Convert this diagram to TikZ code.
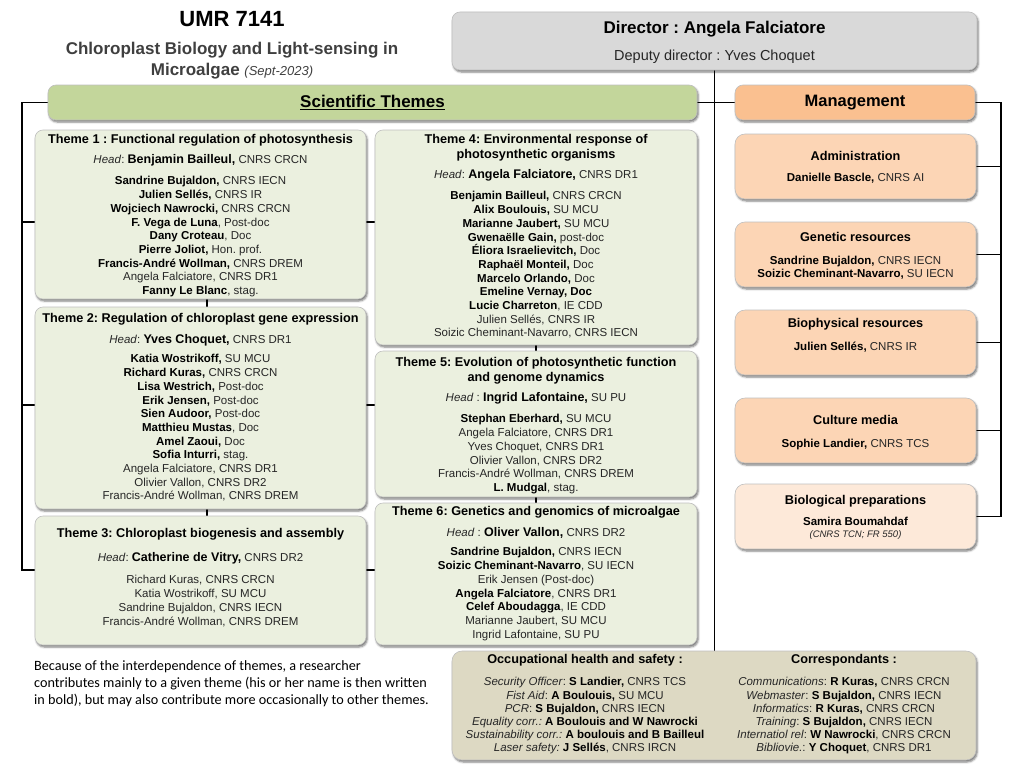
\documentclass[tikz,border=0pt]{standalone}
\usepackage{fontspec}
\setmainfont{Liberation Sans}
\newfontfamily\notefont{Carlito}
\usetikzlibrary{shadows.blur}
\frenchspacing
\definecolor{themefill}{HTML}{EBF0DF}
\definecolor{scifill}{HTML}{C3D69B}
\definecolor{mgmtfill}{HTML}{FAC090}
\definecolor{subfill}{HTML}{FCD5B5}
\definecolor{biofill}{HTML}{FDE9D9}
\definecolor{dirfill}{HTML}{D9D9D9}
\definecolor{safefill}{HTML}{DDD9C3}
\definecolor{boxline}{HTML}{BFBFBF}
\definecolor{subtitlecol}{HTML}{3F3F3F}
\definecolor{regtext}{HTML}{262626}
\newcommand{\bn}[1]{{\bfseries\color{black}#1}}
\newcommand{\ttl}{\fontsize{12.7}{13.7}\selectfont\bfseries\color{black}}
\newcommand{\hd}[1]{{\fontsize{12.5}{13.7}\selectfont\bfseries\color{black}#1}}
\pgfdeclarelayer{bg}
\pgfsetlayers{bg,main}
\tikzset{
  conn/.style={draw=black, line width=1.2pt},
  box/.style={rounded corners=8pt, draw=boxline, line width=0.6pt, inner sep=0pt,
    blur shadow={shadow xshift=1.2pt, shadow yshift=-2pt, shadow blur radius=2pt, shadow opacity=55}},
  theme/.style={box, fill=themefill},
  subbox/.style={box, fill=subfill, rounded corners=10pt},
  txt/.style={inner sep=0pt, align=center, text=regtext, font=\fontsize{11.5}{13.7}\selectfont},
}
\begin{document}
\begin{tikzpicture}[x=1pt,y=-1pt]
\useasboundingbox (0,0) rectangle (1024,768);
% title
\node[inner sep=0pt, font=\fontsize{22}{24}\selectfont\bfseries] (umr) at (232,19) {UMR 7141};
\node[inner sep=0pt, align=center, text=subtitlecol, font=\fontsize{17}{20.5}\selectfont\bfseries, anchor=north] (sub) at (232,42)
  {Chloroplast Biology and Light-sensing in\\Microalgae {\mdseries\itshape\fontsize{13}{20.5}\selectfont (Sept-2023)}};
% director
\node[box, fill=dirfill, minimum width=525pt, minimum height=58pt] (dir) at (714.5,41) {};
\node[inner sep=0pt, font=\fontsize{17}{20}\selectfont\bfseries] (dirn) at (714.5,29) {Director : Angela Falciatore};
\node[inner sep=0pt, font=\fontsize{14.5}{17}\selectfont, text=regtext] (dep) at (714.5,57) {Deputy director : Yves Choquet};
% headers
\node[box, fill=scifill, minimum width=649pt, minimum height=35pt, font=\fontsize{17}{20}\selectfont\bfseries] (sci) at (372.5,102.5) {\underline{Scientific Themes}};
\node[box, fill=mgmtfill, minimum width=240pt, minimum height=35pt, font=\fontsize{16.5}{18}\selectfont\bfseries] (mgmt) at (855,102.5) {Management};
% theme boxes
\node[theme, minimum width=331pt, minimum height=169pt] (t1) at (200.5,214.5) {};
\node[theme, minimum width=331pt, minimum height=202pt] (t2) at (200.5,408) {};
\node[theme, minimum width=331pt, minimum height=129pt] (t3) at (200.5,580.5) {};
\node[theme, minimum width=322pt, minimum height=215pt] (t4) at (536,237.5) {};
\node[theme, minimum width=322pt, minimum height=146pt] (t5) at (536,424) {};
\node[theme, minimum width=322pt, minimum height=142pt] (t6) at (536,574) {};
% theme texts
\node[txt, anchor=north] (t1x) at (200.5,134.5) {%
{\ttl Theme 1 : Functional regulation of photosynthesis}\\[6.3pt]
\textit{Head}: \hd{Benjamin Bailleul,} CNRS CRCN\\[7.3pt]
\bn{Sandrine Bujaldon,} CNRS IECN\\
\bn{Julien Sellés,} CNRS IR\\
\bn{Wojciech Nawrocki,} CNRS CRCN\\
\bn{F. Vega de Luna}, Post-doc\\
\bn{Dany Croteau}, Doc\\
\bn{Pierre Joliot,} Hon. prof.\\
\bn{Francis-André Wollman,} CNRS DREM\\
Angela Falciatore, CNRS DR1\\
\bn{Fanny Le Blanc}, stag.};
\node[txt, anchor=north] (t2x) at (200.5,313.5) {%
{\ttl Theme 2: Regulation of chloroplast gene expression}\\[7.3pt]
\textit{Head}: \hd{Yves Choquet,} CNRS DR1\\[5.3pt]
\bn{Katia Wostrikoff,} SU MCU\\
\bn{Richard Kuras,} CNRS CRCN\\
\bn{Lisa Westrich,} Post-doc\\
\bn{Erik Jensen,} Post-doc\\
\bn{Sien Audoor,} Post-doc\\
\bn{Matthieu Mustas}, Doc\\
\bn{Amel Zaoui,} Doc\\
\bn{Sofia Inturri,} stag.\\
Angela Falciatore, CNRS DR1\\
Olivier Vallon, CNRS DR2\\
Francis-André Wollman, CNRS DREM};
\node[txt, anchor=north] (t3x) at (200.5,528.5) {%
{\ttl Theme 3: Chloroplast biogenesis and assembly}\\[10.3pt]
\textit{Head}: \hd{Catherine de Vitry,} CNRS DR2\\[8.3pt]
Richard Kuras, CNRS CRCN\\
Katia Wostrikoff, SU MCU\\
Sandrine Bujaldon, CNRS IECN\\
Francis-André Wollman, CNRS DREM};
\node[txt, anchor=north] (t4x) at (536,134.5) {%
{\ttl Theme 4: Environmental response of}\\[1.3pt]
{\ttl photosynthetic organisms}\\[6.3pt]
\textit{Head}: \hd{Angela Falciatore,} CNRS DR1\\[7.3pt]
\bn{Benjamin Bailleul,} CNRS CRCN\\
\bn{Alix Boulouis,} SU MCU\\
\bn{Marianne Jaubert,} SU MCU\\
\bn{Gwenaëlle Gain,} post-doc\\
\bn{Éliora Israelievitch,} Doc\\
\bn{Raphaël Monteil,} Doc\\
\bn{Marcelo Orlando,} Doc\\
\bn{Emeline Vernay, Doc}\\
\bn{Lucie Charreton}, IE CDD\\
Julien Sellés, CNRS IR\\
Soizic Cheminant-Navarro, CNRS IECN};
\node[txt, anchor=north] (t5x) at (536,357.5) {%
{\ttl Theme 5: Evolution of photosynthetic function}\\[1.3pt]
{\ttl and genome dynamics}\\[6.3pt]
\textit{Head} : \hd{Ingrid Lafontaine,} SU PU\\[7.3pt]
\bn{Stephan Eberhard,} SU MCU\\
Angela Falciatore, CNRS DR1\\
Yves Choquet, CNRS DR1\\
Olivier Vallon, CNRS DR2\\
Francis-André Wollman, CNRS DREM\\
\bn{L. Mudgal}, stag.};
\node[txt, anchor=north] (t6x) at (536,506.5) {%
{\ttl Theme 6: Genetics and genomics of microalgae}\\[7.3pt]
\textit{Head} : \hd{Oliver Vallon,} CNRS DR2\\[5.3pt]
\bn{Sandrine Bujaldon,} CNRS IECN\\
\bn{Soizic Cheminant-Navarro}, SU IECN\\
Erik Jensen (Post-doc)\\
\bn{Angela Falciatore}, CNRS DR1\\
\bn{Celef Aboudagga}, IE CDD\\
Marianne Jaubert, SU MCU\\
Ingrid Lafontaine, SU PU};
% management boxes
\node[subbox, minimum width=241pt, minimum height=65pt] (adm) at (855.5,166.5) {};
\node[subbox, minimum width=241pt, minimum height=65pt] (gen) at (855.5,254.5) {};
\node[subbox, minimum width=241pt, minimum height=65pt] (phy) at (855.5,342.5) {};
\node[subbox, minimum width=241pt, minimum height=65pt] (cul) at (855.5,430.5) {};
\node[subbox, fill=biofill, minimum width=241pt, minimum height=65pt] (bio) at (855.5,516.5) {};
\node[txt, anchor=north] (admx) at (855.5,151.5) {{\ttl Administration}\\[7.3pt]\bn{Danielle Bascle,} CNRS AI};
\node[txt, anchor=north] (genx) at (855.5,232.5) {{\ttl Genetic resources}\\[9.3pt]\bn{Sandrine Bujaldon,} CNRS IECN\\[-0.7pt]\bn{Soizic Cheminant-Navarro,} SU IECN};
\node[txt, anchor=north] (phyx) at (855.5,318.5) {{\ttl Biophysical resources}\\[9.3pt]\bn{Julien Sellés,} CNRS IR};
\node[txt, anchor=north] (culx) at (855.5,415.5) {{\ttl Culture media}\\[9.3pt]\bn{Sophie Landier,} CNRS TCS};
\node[txt, anchor=north] (biox) at (855.5,495.5) {{\ttl Biological preparations}\\[7.3pt]\bn{Samira Boumahdaf}\\[-1.7pt]{\fontsize{9.5}{12}\selectfont\itshape (CNRS TCN; FR 550)}};
% safety box
\node[box, fill=safefill, rounded corners=10pt, minimum width=524pt, minimum height=109pt] (safe) at (714,705.5) {};
\node[txt, anchor=north, font=\fontsize{11.5}{13.2}\selectfont] (occ) at (585,654.5) {%
{\ttl Occupational health and safety :}\\[8.8pt]
\textit{Security Officer}: \bn{S Landier,} CNRS TCS\\
\textit{Fist Aid}: \bn{A Boulouis,} SU MCU\\
\textit{PCR}: \bn{S Bujaldon,} CNRS IECN\\
\textit{Equality corr.:} \bn{A Boulouis and W Nawrocki}\\
\textit{Sustainability corr.:} \bn{A boulouis and B Bailleul}\\
\textit{Laser safety:} \bn{J Sellés}, CNRS IRCN};
\node[txt, anchor=north, font=\fontsize{11.5}{13.2}\selectfont] (corr) at (844,654.5) {%
{\ttl Correspondants :}\\[8.8pt]
\textit{Communications}: \bn{R Kuras,} CNRS CRCN\\
\textit{Webmaster}: \bn{S Bujaldon,} CNRS IECN\\
\textit{Informatics}: \bn{R Kuras,} CNRS CRCN\\
\textit{Training}: \bn{S Bujaldon,} CNRS IECN\\
\textit{Internatiol rel}: \bn{W Nawrocki}, CNRS CRCN\\
\textit{Bibliovie.}: \bn{Y Choquet}, CNRS DR1};
% note
\node[anchor=north west, align=left, inner sep=0pt, font=\notefont\fontsize{14.2}{17}\selectfont] (note) at (34,660.5)
  {Because of the interdependence of themes, a researcher\\contributes mainly to a given theme (his or her name is then written\\in bold), but may also contribute more occasionally to other themes.};
% connectors
\coordinate (lb1) at (22,222);
\coordinate (lb2) at (22,405);
\coordinate (lb3) at (22,570);
\coordinate (cl) at (207,0);
\coordinate (cr) at (536,0);
\coordinate (rb) at (1001,0);
\begin{pgfonlayer}{bg}
\draw[conn] (dir.south) -- (dir.south |- safe.north);
\draw[conn] (sci.east) -- (mgmt.west);
\draw[conn] (sci.west) -| (lb3) -- (t3.west |- lb3);
\draw[conn] (lb1) -- (t1.west |- lb1);
\draw[conn] (lb2) -- (t2.west |- lb2);
\draw[conn] (t1.east |- lb1) -- (t4.west |- lb1);
\draw[conn] (t2.east |- lb2) -- (t5.west |- lb2);
\draw[conn] (t3.east |- lb3) -- (t6.west |- lb3);
\draw[conn] (t1.south -| cl) -- (t2.north -| cl);
\draw[conn] (t2.south -| cl) -- (t3.north -| cl);
\draw[conn] (t4.south -| cr) -- (t5.north -| cr);
\draw[conn] (t5.south -| cr) -- (t6.north -| cr);
\draw[conn] (mgmt.east) -| (rb |- bio.east) -- (bio.east);
\draw[conn] (adm.east) -- (rb |- adm.east);
\draw[conn] (gen.east) -- (rb |- gen.east);
\draw[conn] (phy.east) -- (rb |- phy.east);
\draw[conn] (cul.east) -- (rb |- cul.east);
\end{pgfonlayer}
\end{tikzpicture}
\end{document}
